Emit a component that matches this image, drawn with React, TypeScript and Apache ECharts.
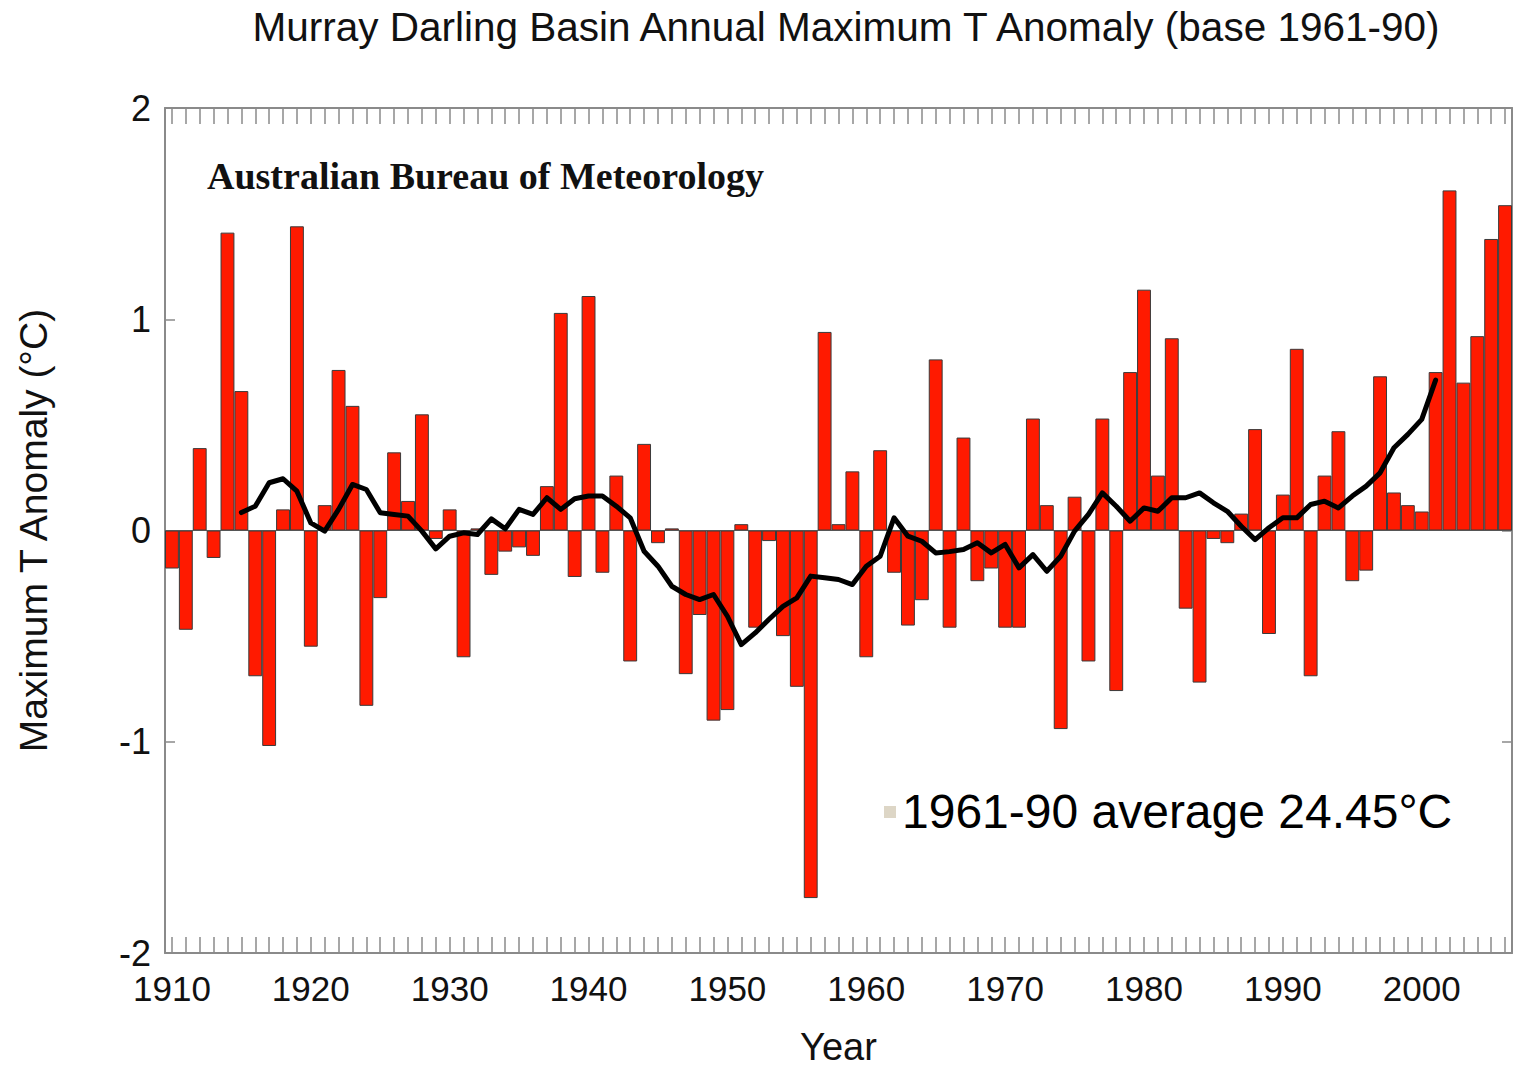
import React, { useEffect, useRef } from "react";
import * as echarts from "echarts";

const years: string[] = [];
for (let y = 1910; y <= 2006; y++) years.push(String(y));

const anomaly: number[] = [
  -0.18, -0.47, 0.39, -0.13, 1.41, 0.66, -0.69, -1.02, 0.10, 1.44,
  -0.55, 0.12, 0.76, 0.59, -0.83, -0.32, 0.37, 0.14, 0.55, -0.04,
  0.10, -0.60, 0.01, -0.21, -0.10, -0.08, -0.12, 0.21, 1.03, -0.22,
  1.11, -0.20, 0.26, -0.62, 0.41, -0.06, 0.01, -0.68, -0.40, -0.90,
  -0.85, 0.03, -0.46, -0.05, -0.50, -0.74, -1.74, 0.94, 0.03, 0.28,
  -0.60, 0.38, -0.20, -0.45, -0.33, 0.81, -0.46, 0.44, -0.24, -0.18,
  -0.46, -0.46, 0.53, 0.12, -0.94, 0.16, -0.62, 0.53, -0.76, 0.75,
  1.14, 0.26, 0.91, -0.37, -0.72, -0.04, -0.06, 0.08, 0.48, -0.49,
  0.17, 0.86, -0.69, 0.26, 0.47, -0.24, -0.19, 0.73, 0.18, 0.12,
  0.09, 0.75, 1.61, 0.70, 0.92, 1.38, 1.54,
];

// 11-year running mean as drawn (1915-2001)
const smoothStart = 1915;
const smoothed: number[] = [
  0.085, 0.115, 0.226, 0.245, 0.186, 0.036, -0.003, 0.10, 0.218, 0.194,
  0.084, 0.076, 0.068, -0.003, -0.087, -0.027, -0.011, -0.019, 0.055, 0.008,
  0.10, 0.076, 0.155, 0.10, 0.15, 0.163, 0.163, 0.115, 0.06, -0.098,
  -0.169, -0.264, -0.303, -0.327, -0.303, -0.406, -0.54, -0.485, -0.42, -0.359,
  -0.319, -0.216, -0.224, -0.232, -0.256, -0.169, -0.122, 0.06, -0.027, -0.051,
  -0.106, -0.10, -0.09, -0.058, -0.106, -0.066, -0.177, -0.114, -0.193, -0.122,
  -0.003, 0.076, 0.178, 0.115, 0.044, 0.107, 0.091, 0.155, 0.155, 0.178,
  0.131, 0.091, 0.02, -0.043, 0.013, 0.06, 0.06, 0.123, 0.139, 0.107,
  0.163, 0.21, 0.273, 0.392, 0.455, 0.526, 0.712,
];

const yTicks = [-2, -1, 0, 1, 2];

const titleText = "Murray Darling Basin Annual Maximum T Anomaly (base 1961-90)";
const sourceText = "Australian Bureau of Meteorology";
const noteText = "1961-90 average 24.45°C";
const yName = "Maximum T Anomaly (°C)";
const xName = "Year";

const SANS = "'Liberation Sans', Arial, Helvetica, sans-serif";
const SERIF = "'Liberation Serif', 'Times New Roman', serif";

export default function App() {
  const ref = useRef<HTMLDivElement>(null);

  useEffect(() => {
    document.body.style.margin = "0";
    document.body.style.overflow = "hidden";
    if (!ref.current) return;
    const chart = echarts.init(ref.current, undefined, { renderer: "svg" });

    const lineData = years.map((y) => {
      const idx = Number(y) - smoothStart;
      return idx >= 0 && idx < smoothed.length ? smoothed[idx] : null;
    });

    const frameColor = "#8a8a8a";
    const tickStyle = { color: frameColor, width: 1.5 };

    const option: any = {
      animation: false,
      backgroundColor: "#ffffff",
      title: {
        text: titleText,
        left: 841,
        textAlign: "center",
        top: 1,
        textStyle: {
          fontFamily: SANS,
          fontSize: 40.5,
          fontWeight: "normal",
          color: "#111",
        },
      },
      grid: {
        left: 165,
        right: 1,
        top: 108,
        bottom: 119,
        containLabel: false,
        outerBoundsMode: "none",
      },
      xAxis: [
        {
          type: "category",
          data: years,
          position: "bottom",
          boundaryGap: true,
          name: xName,
          nameLocation: "middle",
          nameGap: 76,
          nameTextStyle: { fontFamily: SANS, fontSize: 38, lineHeight: 36, color: "#111" },
          axisLine: { show: true, onZero: false, lineStyle: { color: frameColor, width: 2 } },
          axisTick: {
            show: true,
            inside: true,
            length: 16,
            interval: 0,
            alignWithLabel: true,
            lineStyle: tickStyle,
          },
          axisLabel: {
            interval: (_i: number, v: string) => Number(v) % 10 === 0,
            fontFamily: SANS,
            fontSize: 35,
            color: "#111",
            margin: 18,
          },
          splitLine: { show: false },
        },
        {
          type: "category",
          data: years,
          position: "top",
          boundaryGap: true,
          axisLine: { show: true, onZero: false, lineStyle: { color: frameColor, width: 2 } },
          axisTick: {
            show: true,
            inside: true,
            length: 16,
            interval: 0,
            alignWithLabel: true,
            lineStyle: tickStyle,
          },
          axisLabel: { show: false },
          splitLine: { show: false },
        },
      ],
      yAxis: [
        {
          type: "value",
          min: yTicks[0],
          max: yTicks[yTicks.length - 1],
          interval: 1,
          position: "left",
          name: yName,
          nameLocation: "middle",
          nameRotate: 90,
          nameGap: 112,
          nameTextStyle: { fontFamily: SANS, fontSize: 39, color: "#111" },
          axisLine: { show: true, onZero: false, lineStyle: { color: frameColor, width: 2 } },
          axisTick: { show: true, inside: true, length: 10, lineStyle: tickStyle },
          axisLabel: { fontFamily: SANS, fontSize: 36, color: "#111", margin: 14 },
          splitLine: { show: false },
        },
        {
          type: "value",
          min: yTicks[0],
          max: yTicks[yTicks.length - 1],
          interval: 1,
          position: "right",
          axisLine: { show: true, onZero: false, lineStyle: { color: frameColor, width: 2 } },
          axisTick: { show: true, inside: true, length: 10, lineStyle: tickStyle },
          axisLabel: { show: false },
          splitLine: { show: false },
        },
      ],
      series: [
        {
          type: "bar",
          name: "Anomaly",
          data: anomaly,
          xAxisIndex: 0,
          yAxisIndex: 0,
          barCategoryGap: "0%",
          itemStyle: { color: "#ff1a00", borderColor: "#3a3a3a", borderWidth: 1 },
          markLine: {
            silent: true,
            symbol: "none",
            label: { show: false },
            lineStyle: { color: "#555", width: 1.2, type: "solid" },
            data: [{ yAxis: 0 }],
          },
        },
        {
          type: "line",
          name: "11-year mean",
          data: lineData,
          xAxisIndex: 0,
          yAxisIndex: 0,
          showSymbol: false,
          symbol: "none",
          connectNulls: false,
          lineStyle: { color: "#000", width: 5, cap: "round", join: "round" },
          z: 5,
        },
      ],
      graphic: [
        {
          type: "text",
          left: 207,
          top: 157,
          style: {
            text: sourceText,
            font: `bold 38px ${SERIF}`,
            fill: "#111",
          },
          z: 10,
        },
        {
          type: "rect",
          shape: { x: 884, y: 806, width: 12, height: 12 },
          style: { fill: "#ddd6c6" },
          z: 10,
        },
        {
          type: "text",
          left: 902,
          top: 787,
          style: {
            text: noteText,
            font: `48px ${SANS}`,
            fill: "#000",
          },
          z: 10,
        },
      ],
    };

    chart.setOption(option);
    return () => chart.dispose();
  }, []);

  return <div ref={ref} style={{ width: 1513, height: 1072 }} />;
}
